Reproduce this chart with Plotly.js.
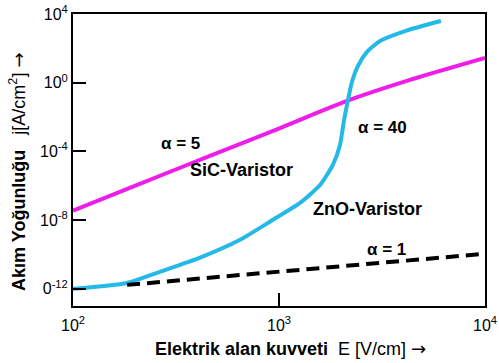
<!DOCTYPE html>
<html>
<head>
<meta charset="utf-8">
<script src="https://cdn.plot.ly/plotly-3.0.1.min.js"></script>
<style>
  html, body { margin: 0; padding: 0; background: #fff; }
  #chart { width: 499px; height: 363px; }
</style>
</head>
<body>
<div id="chart"></div>
<script>
// Electric field E [V/cm] and current density j [A/cm²]
const sicE = [100, 211, 462, 1012, 2138, 4325, 10000];
const sicJ = [3.5e-8, 1.3e-6, 5.5e-5, 2.3e-3, 8.7e-2, 1.45, 27.5];

const znoE = [100, 183, 264, 414, 647, 935, 1265, 1581, 1828, 1977, 2070, 2163, 2259, 2415, 2673, 3090, 4093, 6109];
const znoJ = [1e-12, 2.2e-12, 9.8e-12, 6.5e-11, 7.1e-10, 1.05e-8, 1.0e-7, 1.1e-6, 1.7e-5, 2.4e-4, 6.8e-3, 0.1, 1.1, 9.3, 62, 270, 1020, 3900];

const ohmE = [183, 10000];
const ohmJ = [1.7e-12, 1.1e-10];

const yTickVals = [1e-12, 1e-8, 1e-4, 1, 1e4];
const yTickText = ['0<sup>-12</sup>', '10<sup>-8</sup>', '10<sup>-4</sup>', '10<sup>0</sup>', '10<sup>4</sup>'];
const xTickVals = [100, 1000, 10000];
const xTickText = ['10<sup>2</sup>', '10<sup>3</sup>', '10<sup>4</sup>'];

const FONT = 'Liberation Sans, Arial, sans-serif';
const ARROW = '<span style="font-family:DejaVu Sans;font-size:18px">→</span>';

const traces = [
  { x: sicE, y: sicJ, mode: 'lines', line: { color: '#ee1ee8', width: 4, shape: 'spline', smoothing: 0.8 }, hoverinfo: 'skip' },
  { x: znoE, y: znoJ, mode: 'lines', line: { color: '#25b9e8', width: 4, shape: 'spline', smoothing: 0.6 }, hoverinfo: 'skip' },
  { x: ohmE, y: ohmJ, mode: 'lines', line: { color: '#000000', width: 4, dash: '13px,7px' }, hoverinfo: 'skip' }
];

function label(text, x, y, size) {
  return { text: text, xref: 'paper', yref: 'paper', x: x, y: y, xanchor: 'center', yanchor: 'middle',
           showarrow: false, font: { family: FONT, size: size, color: '#000' } };
}

const xTitle = label('<b>Elektrik alan kuvveti</b>  E [V/cm] ' + ARROW, 0.527, -0.144, 18);
const yTitle = label('<b>Akım Yoğunluğu</b>   j[A/cm<sup>2</sup>] ' + ARROW, -0.1335, 0.459, 18);
yTitle.textangle = -90;

const layout = {
  width: 499, height: 363,
  margin: { l: 73, r: 14, t: 14, b: 57 },
  paper_bgcolor: '#ffffff', plot_bgcolor: '#ffffff',
  showlegend: false,
  font: { family: FONT, color: '#000', size: 16 },
  xaxis: {
    type: 'log', range: [2, 4],
    tickmode: 'array', tickvals: xTickVals, ticktext: xTickText,
    ticks: 'inside', ticklen: 13, tickwidth: 2, tickcolor: '#000',
    showline: true, linecolor: '#000', linewidth: 2, mirror: true,
    showgrid: false, zeroline: false,
    tickfont: { family: FONT, size: 16, color: '#000' },
    ticklabelstandoff: 4
  },
  yaxis: {
    type: 'log', range: [-13, 4],
    tickmode: 'array', tickvals: yTickVals, ticktext: yTickText,
    ticks: 'inside', ticklen: 13, tickwidth: 2, tickcolor: '#000',
    showline: true, linecolor: '#000', linewidth: 2, mirror: true,
    showgrid: false, zeroline: false,
    tickfont: { family: FONT, size: 16, color: '#000' }
  },
  annotations: [
    xTitle,
    yTitle,
    label('<b>α = 5</b>', 0.26, 0.555, 17),
    label('<b>SiC-Varistor</b>', 0.41, 0.466, 18),
    label('<b>α = 40</b>', 0.752, 0.610, 17),
    label('<b>ZnO-Varistor</b>', 0.716, 0.332, 18),
    label('<b>α = 1</b>', 0.760, 0.195, 17)
  ]
};

Plotly.newPlot('chart', traces, layout, { staticPlot: true, displayModeBar: false });
</script>
</body>
</html>
